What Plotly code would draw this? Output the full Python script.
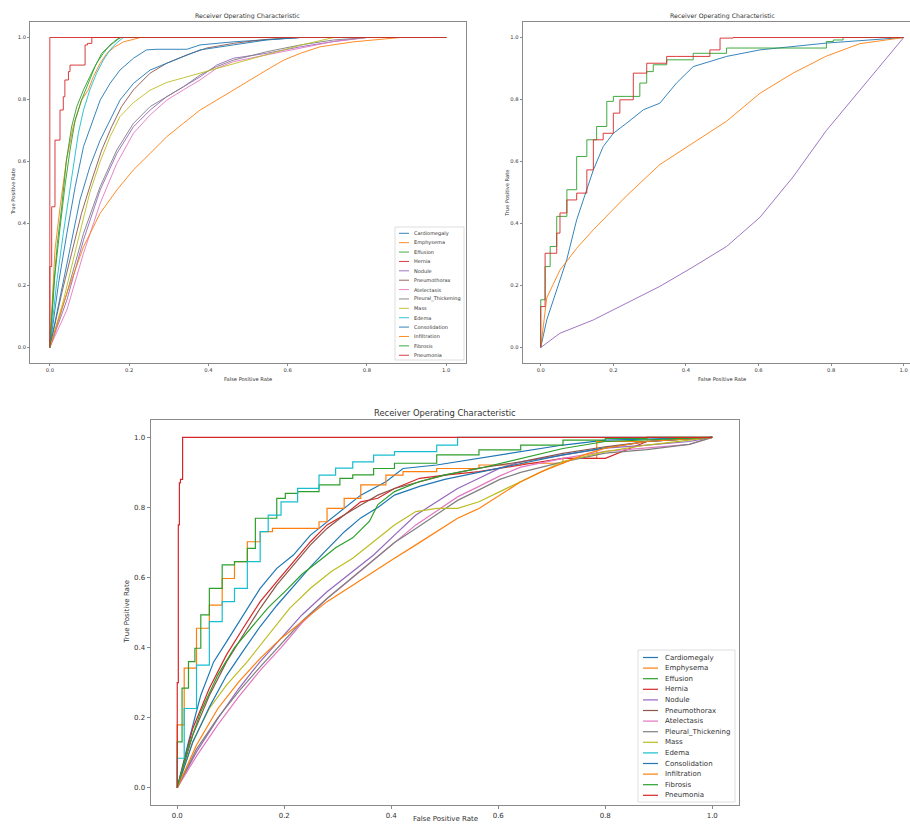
import plotly.graph_objects as go

W, H = 910, 825

CLASS_NAMES = ["Cardiomegaly", "Emphysema", "Effusion", "Hernia", "Nodule",
               "Pneumothorax", "Atelectasis", "Pleural_Thickening", "Mass",
               "Edema", "Consolidation", "Infiltration", "Fibrosis", "Pneumonia"]
TAB10 = ["#1f77b4", "#ff7f0e", "#2ca02c", "#d62728", "#9467bd",
         "#8c564b", "#e377c2", "#7f7f7f", "#bcbd22", "#17becf"]
TICK_VALS = [0.0, 0.2, 0.4, 0.6, 0.8, 1.0]
TICK_TEXT = ["0.0", "0.2", "0.4", "0.6", "0.8", "1.0"]
TITLE = "Receiver Operating Characteristic"
XLABEL = "False Positive Rate"
YLABEL = "True Positive Rate"

# ---------------- top-left panel (14 classes) ----------------
tl_cardiomegaly_x = [0, 0.022, 0.043, 0.064, 0.085, 0.106, 0.127, 0.152, 0.177, 0.211, 0.244, 0.27, 0.346, 0.379, 0.463, 0.632, 1.0]
tl_cardiomegaly_y = [0, 0.207, 0.368, 0.519, 0.648, 0.723, 0.798, 0.852, 0.895, 0.933, 0.96, 0.962, 0.962, 0.976, 0.986, 1.0, 1.0]
tl_emphysema_x = [0, 0.013, 0.026, 0.042, 0.059, 0.08, 0.097, 0.11, 0.127, 0.144, 0.164, 0.186, 0.211, 0.228, 1.0]
tl_emphysema_y = [0, 0.315, 0.454, 0.605, 0.712, 0.798, 0.831, 0.874, 0.917, 0.949, 0.97, 0.986, 0.994, 1.0, 1.0]
tl_effusion_x = [0, 0.009, 0.019, 0.03, 0.042, 0.055, 0.068, 0.085, 0.101, 0.118, 0.135, 0.152, 0.169, 0.18, 1.0]
tl_effusion_y = [0, 0.185, 0.336, 0.454, 0.605, 0.712, 0.777, 0.831, 0.874, 0.917, 0.949, 0.976, 0.994, 1.0, 1.0]
tl_hernia_x = [0, 0.0047, 0.013, 0.0257, 0.034, 0.038, 0.047, 0.051, 0.068, 0.089, 0.095, 0.106, 0.118, 1.0]
tl_hernia_y = [0, 0.261, 0.454, 0.669, 0.766, 0.809, 0.863, 0.89, 0.911, 0.911, 0.976, 0.981, 1.0, 1.0]
tl_nodule_x = [0, 0.043, 0.085, 0.127, 0.169, 0.211, 0.253, 0.295, 0.337, 0.379, 0.421, 0.463, 0.547, 0.632, 0.716, 0.8, 1.0]
tl_nodule_y = [0, 0.153, 0.347, 0.508, 0.626, 0.712, 0.766, 0.809, 0.841, 0.873, 0.911, 0.933, 0.949, 0.97, 0.987, 1.0, 1.0]
tl_pneumothorax_x = [0, 0.03, 0.055, 0.08, 0.106, 0.131, 0.156, 0.181, 0.211, 0.253, 0.295, 0.346, 0.396, 0.463, 0.547, 0.632, 1.0]
tl_pneumothorax_y = [0, 0.175, 0.304, 0.433, 0.54, 0.637, 0.712, 0.777, 0.831, 0.885, 0.917, 0.944, 0.966, 0.981, 0.994, 1.0, 1.0]
tl_atelectasis_x = [0, 0.043, 0.085, 0.127, 0.169, 0.211, 0.253, 0.295, 0.337, 0.379, 0.421, 0.463, 0.547, 0.632, 0.716, 0.8, 1.0]
tl_atelectasis_y = [0, 0.121, 0.304, 0.465, 0.594, 0.691, 0.75, 0.798, 0.831, 0.863, 0.901, 0.922, 0.944, 0.965, 0.987, 1.0, 1.0]
tl_pleural_x = [0, 0.043, 0.085, 0.127, 0.169, 0.211, 0.253, 0.295, 0.337, 0.379, 0.421, 0.463, 0.547, 0.632, 0.716, 0.8, 1.0]
tl_pleural_y = [0, 0.175, 0.368, 0.519, 0.637, 0.723, 0.777, 0.809, 0.841, 0.879, 0.906, 0.927, 0.954, 0.976, 0.992, 1.0, 1.0]
tl_mass_x = [0, 0.034, 0.068, 0.101, 0.127, 0.152, 0.177, 0.211, 0.253, 0.295, 0.337, 0.379, 0.421, 0.463, 0.547, 0.632, 0.716, 1.0]
tl_mass_y = [0, 0.15, 0.33, 0.5, 0.6, 0.68, 0.745, 0.79, 0.83, 0.855, 0.87, 0.885, 0.9, 0.915, 0.945, 0.975, 1.0, 1.0]
tl_edema_x = [0, 0.017, 0.034, 0.047, 0.059, 0.072, 0.085, 0.101, 0.118, 0.135, 0.152, 0.169, 0.186, 1.0]
tl_edema_y = [0, 0.207, 0.368, 0.476, 0.583, 0.691, 0.766, 0.831, 0.885, 0.927, 0.96, 0.983, 1.0, 1.0]
tl_consolidation_x = [0, 0.027, 0.052, 0.076, 0.101, 0.127, 0.152, 0.177, 0.211, 0.253, 0.295, 0.337, 0.379, 0.463, 0.547, 0.632, 1.0]
tl_consolidation_y = [0, 0.175, 0.325, 0.476, 0.583, 0.669, 0.734, 0.798, 0.852, 0.895, 0.917, 0.938, 0.96, 0.976, 0.992, 1.0, 1.0]
tl_infiltration_x = [0, 0.043, 0.085, 0.127, 0.169, 0.211, 0.253, 0.295, 0.337, 0.379, 0.421, 0.463, 0.505, 0.547, 0.59, 0.632, 0.682, 0.766, 0.884, 1.0]
tl_infiltration_y = [0, 0.175, 0.325, 0.433, 0.508, 0.573, 0.626, 0.68, 0.723, 0.766, 0.798, 0.831, 0.863, 0.895, 0.927, 0.949, 0.97, 0.986, 1.0, 1.0]
tl_fibrosis_x = [0, 0.013, 0.026, 0.038, 0.051, 0.064, 0.08, 0.097, 0.114, 0.131, 0.148, 0.164, 0.177, 1.0]
tl_fibrosis_y = [0, 0.237, 0.388, 0.519, 0.637, 0.734, 0.798, 0.852, 0.906, 0.949, 0.97, 0.986, 1.0, 1.0]
tl_pneumonia_x = [0, 0, 1.0]
tl_pneumonia_y = [0, 1.0, 1.0]

# ---------------- top-right panel (first five classes) ----------------
tr_cardiomegaly_x = [0, 0.0165, 0.044, 0.0716, 0.099, 0.145, 0.172, 0.2, 0.237, 0.283, 0.328, 0.374, 0.42, 0.512, 0.604, 0.695, 0.787, 1.0]
tr_cardiomegaly_y = [0, 0.089, 0.186, 0.283, 0.412, 0.573, 0.648, 0.691, 0.724, 0.767, 0.788, 0.853, 0.906, 0.939, 0.96, 0.971, 0.982, 1.0]
tr_emphysema_x = [0, 0.0165, 0.053, 0.099, 0.145, 0.237, 0.328, 0.42, 0.512, 0.604, 0.695, 0.787, 0.879, 1.0]
tr_emphysema_y = [0, 0.16, 0.25, 0.32, 0.38, 0.49, 0.59, 0.66, 0.73, 0.82, 0.885, 0.94, 0.98, 1.0]
tr_effusion_x = [0, 0.012, 0.026, 0.044, 0.072, 0.099, 0.127, 0.154, 0.182, 0.2, 0.237, 0.273, 0.292, 0.31, 0.347, 0.42, 0.512, 0.604, 0.787, 0.806, 0.833, 1.0]
tr_effusion_y = [0, 0.154, 0.261, 0.326, 0.423, 0.509, 0.616, 0.67, 0.713, 0.794, 0.81, 0.81, 0.853, 0.89, 0.912, 0.928, 0.949, 0.966, 0.966, 0.987, 0.992, 1.0]
tr_hernia_x = [0, 0.012, 0.026, 0.044, 0.053, 0.072, 0.099, 0.127, 0.145, 0.172, 0.2, 0.218, 0.255, 0.292, 0.347, 0.374, 0.466, 0.494, 0.53, 1.0]
tr_hernia_y = [0, 0.132, 0.304, 0.304, 0.369, 0.434, 0.476, 0.498, 0.573, 0.67, 0.691, 0.756, 0.799, 0.885, 0.917, 0.939, 0.939, 0.96, 0.998, 1.0]
tr_nodule_x = [0, 0.053, 0.145, 0.237, 0.328, 0.42, 0.512, 0.604, 0.695, 0.787, 0.879, 0.95, 1.0]
tr_nodule_y = [0, 0.046, 0.089, 0.143, 0.197, 0.26, 0.326, 0.42, 0.55, 0.70, 0.83, 0.93, 1.0]

# ---------------- bottom panel (14 classes) ----------------
bt_cardiomegaly_x = [0, 0.021, 0.044, 0.068, 0.092, 0.123, 0.155, 0.186, 0.217, 0.249, 0.28, 0.312, 0.343, 0.39, 0.422, 0.485, 0.564, 0.642, 0.721, 0.8, 1.0]
bt_cardiomegaly_y = [0, 0.131, 0.264, 0.359, 0.416, 0.493, 0.569, 0.626, 0.664, 0.721, 0.759, 0.797, 0.835, 0.873, 0.911, 0.921, 0.94, 0.959, 0.978, 0.992, 1.0]
bt_emphysema_x = [0, 0.013, 0.036, 0.06, 0.084, 0.107, 0.131, 0.155, 0.178, 0.202, 0.265, 0.28, 0.312, 0.343, 0.39, 0.422, 0.485, 0.564, 0.642, 0.721, 0.784, 0.878, 1.0]
bt_emphysema_y = [0, 0.179, 0.341, 0.455, 0.521, 0.597, 0.645, 0.702, 0.731, 0.74, 0.74, 0.759, 0.797, 0.826, 0.864, 0.892, 0.902, 0.911, 0.921, 0.926, 0.94, 0.988, 1.0]
bt_effusion_x = [0, 0.009, 0.021, 0.033, 0.044, 0.06, 0.084, 0.107, 0.131, 0.146, 0.162, 0.186, 0.202, 0.225, 0.265, 0.304, 0.328, 0.367, 0.406, 0.485, 0.564, 0.642, 0.721, 0.8, 0.878, 1.0]
bt_effusion_y = [0, 0.131, 0.284, 0.36, 0.398, 0.493, 0.569, 0.636, 0.645, 0.683, 0.769, 0.769, 0.826, 0.84, 0.845, 0.864, 0.883, 0.893, 0.911, 0.926, 0.95, 0.964, 0.978, 0.992, 0.997, 1.0]
bt_hernia_x = [0, 0.029, 0.06, 0.092, 0.123, 0.155, 0.186, 0.217, 0.249, 0.28, 0.312, 0.343, 0.375, 0.406, 0.453, 0.5, 0.564, 0.642, 0.721, 0.8, 0.878, 1.0]
bt_hernia_y = [0, 0.169, 0.284, 0.379, 0.455, 0.531, 0.588, 0.645, 0.702, 0.75, 0.778, 0.816, 0.826, 0.854, 0.883, 0.892, 0.902, 0.921, 0.94, 0.94, 0.988, 1.0]
bt_nodule_x = [0, 0.036, 0.076, 0.115, 0.155, 0.194, 0.233, 0.28, 0.328, 0.367, 0.406, 0.446, 0.485, 0.524, 0.564, 0.603, 0.642, 0.721, 0.8, 0.878, 0.957, 1.0]
bt_nodule_y = [0, 0.102, 0.198, 0.283, 0.36, 0.426, 0.493, 0.559, 0.617, 0.664, 0.721, 0.778, 0.816, 0.854, 0.883, 0.912, 0.93, 0.95, 0.969, 0.978, 0.988, 1.0]
bt_pneumothorax_x = [0, 0.029, 0.06, 0.092, 0.123, 0.155, 0.186, 0.217, 0.249, 0.28, 0.312, 0.343, 0.375, 0.406, 0.453, 0.5, 0.564, 0.642, 0.721, 0.8, 0.878, 1.0]
bt_pneumothorax_y = [0, 0.15, 0.263, 0.359, 0.435, 0.512, 0.579, 0.636, 0.693, 0.74, 0.778, 0.807, 0.835, 0.854, 0.873, 0.892, 0.912, 0.93, 0.954, 0.973, 0.988, 1.0]
bt_atelectasis_x = [0, 0.036, 0.076, 0.115, 0.155, 0.194, 0.233, 0.28, 0.328, 0.367, 0.406, 0.446, 0.485, 0.524, 0.564, 0.603, 0.642, 0.721, 0.8, 0.878, 0.957, 1.0]
bt_atelectasis_y = [0, 0.09, 0.18, 0.26, 0.335, 0.40, 0.47, 0.54, 0.6, 0.65, 0.70, 0.75, 0.79, 0.83, 0.86, 0.89, 0.915, 0.94, 0.96, 0.97, 0.98, 1.0]
bt_pleural_x = [0, 0.036, 0.076, 0.115, 0.155, 0.194, 0.233, 0.28, 0.328, 0.367, 0.406, 0.446, 0.485, 0.524, 0.564, 0.603, 0.642, 0.721, 0.8, 0.878, 0.957, 1.0]
bt_pleural_y = [0, 0.11, 0.2, 0.275, 0.345, 0.41, 0.475, 0.54, 0.6, 0.65, 0.70, 0.74, 0.78, 0.82, 0.85, 0.88, 0.90, 0.93, 0.955, 0.965, 0.98, 1.0]
bt_mass_x = [0, 0.029, 0.06, 0.092, 0.131, 0.17, 0.21, 0.249, 0.288, 0.328, 0.367, 0.406, 0.446, 0.485, 0.524, 0.564, 0.603, 0.642, 0.681, 0.721, 0.8, 0.878, 1.0]
bt_mass_y = [0, 0.131, 0.226, 0.293, 0.36, 0.436, 0.512, 0.569, 0.617, 0.655, 0.702, 0.75, 0.788, 0.797, 0.797, 0.816, 0.845, 0.873, 0.902, 0.931, 0.959, 0.978, 1.0]
bt_edema_x = [0, 0.013, 0.036, 0.06, 0.084, 0.107, 0.131, 0.155, 0.17, 0.194, 0.225, 0.265, 0.296, 0.328, 0.367, 0.406, 0.485, 0.524, 0.603, 1.0]
bt_edema_y = [0, 0.084, 0.226, 0.35, 0.474, 0.531, 0.569, 0.645, 0.731, 0.778, 0.816, 0.854, 0.892, 0.912, 0.93, 0.949, 0.959, 0.978, 1.0, 1.0]
bt_consolidation_x = [0, 0.029, 0.06, 0.092, 0.123, 0.155, 0.186, 0.217, 0.249, 0.28, 0.312, 0.343, 0.375, 0.406, 0.453, 0.5, 0.564, 0.642, 0.721, 0.8, 0.878, 1.0]
bt_consolidation_y = [0, 0.13, 0.23, 0.32, 0.39, 0.46, 0.52, 0.575, 0.63, 0.68, 0.73, 0.77, 0.80, 0.835, 0.86, 0.88, 0.9, 0.925, 0.95, 0.97, 0.988, 1.0]
bt_infiltration_x = [0, 0.036, 0.076, 0.115, 0.155, 0.194, 0.233, 0.28, 0.328, 0.367, 0.406, 0.446, 0.485, 0.524, 0.564, 0.603, 0.642, 0.681, 0.721, 0.76, 0.8, 0.878, 1.0]
bt_infiltration_y = [0, 0.122, 0.226, 0.302, 0.369, 0.426, 0.474, 0.531, 0.578, 0.617, 0.655, 0.693, 0.731, 0.769, 0.797, 0.835, 0.873, 0.902, 0.926, 0.95, 0.969, 0.988, 1.0]
bt_fibrosis_x = [0, 0.02, 0.044, 0.076, 0.107, 0.139, 0.17, 0.202, 0.233, 0.265, 0.296, 0.328, 0.359, 0.375, 0.406, 0.453, 0.5, 0.564, 0.642, 0.721, 0.8, 0.878, 1.0]
bt_fibrosis_y = [0, 0.112, 0.217, 0.322, 0.4, 0.457, 0.514, 0.561, 0.609, 0.647, 0.685, 0.713, 0.76, 0.808, 0.845, 0.874, 0.893, 0.911, 0.94, 0.968, 0.988, 0.992, 1.0]
bt_pneumonia_x = [0, 0.002, 0.004, 0.006, 0.01, 0.012, 1.0]
bt_pneumonia_y = [0, 0.3, 0.75, 0.87, 0.88, 1.0, 1.0]

TL_SERIES = [(tl_cardiomegaly_x, tl_cardiomegaly_y), (tl_emphysema_x, tl_emphysema_y),
             (tl_effusion_x, tl_effusion_y), (tl_hernia_x, tl_hernia_y),
             (tl_nodule_x, tl_nodule_y), (tl_pneumothorax_x, tl_pneumothorax_y),
             (tl_atelectasis_x, tl_atelectasis_y), (tl_pleural_x, tl_pleural_y),
             (tl_mass_x, tl_mass_y), (tl_edema_x, tl_edema_y),
             (tl_consolidation_x, tl_consolidation_y), (tl_infiltration_x, tl_infiltration_y),
             (tl_fibrosis_x, tl_fibrosis_y), (tl_pneumonia_x, tl_pneumonia_y)]
TR_SERIES = [(tr_cardiomegaly_x, tr_cardiomegaly_y), (tr_emphysema_x, tr_emphysema_y),
             (tr_effusion_x, tr_effusion_y), (tr_hernia_x, tr_hernia_y),
             (tr_nodule_x, tr_nodule_y)]
BT_SERIES = [(bt_cardiomegaly_x, bt_cardiomegaly_y), (bt_emphysema_x, bt_emphysema_y),
             (bt_effusion_x, bt_effusion_y), (bt_hernia_x, bt_hernia_y),
             (bt_nodule_x, bt_nodule_y), (bt_pneumothorax_x, bt_pneumothorax_y),
             (bt_atelectasis_x, bt_atelectasis_y), (bt_pleural_x, bt_pleural_y),
             (bt_mass_x, bt_mass_y), (bt_edema_x, bt_edema_y),
             (bt_consolidation_x, bt_consolidation_y), (bt_infiltration_x, bt_infiltration_y),
             (bt_fibrosis_x, bt_fibrosis_y), (bt_pneumonia_x, bt_pneumonia_y)]

# curves drawn as stair steps (few positives in the source ROC)
TL_STEPPED = {"Hernia"}
TR_STEPPED = {"Hernia", "Effusion"}
BT_STEPPED = {"Effusion", "Edema", "Emphysema", "Pneumonia"}

FONT = "DejaVu Sans"
FRAME = "#8a8a8a"
TXT = "#333333"


def px(x):
    return x / W


def py(y):
    return 1 - y / H


fig = go.Figure()

panels = [("x", "y", TL_SERIES, TL_STEPPED, 0.9),
          ("x2", "y2", TR_SERIES, TR_STEPPED, 0.9),
          ("x3", "y3", BT_SERIES, BT_STEPPED, 1.2)]
for xa, ya, series, stepped, lw in panels:
    for i, (xs, ys) in enumerate(series):
        name = CLASS_NAMES[i]
        fig.add_trace(go.Scatter(x=xs, y=ys, mode="lines", name=name,
                                 line=dict(color=TAB10[i % 10], width=lw,
                                           shape="vh" if name in stepped else "linear"),
                                 xaxis=xa, yaxis=ya, showlegend=False, hoverinfo="skip"))


def axis(domain, rng, fs, tlen, anchor):
    return dict(domain=domain, range=rng, tickmode="array", tickvals=TICK_VALS,
                ticktext=TICK_TEXT, ticks="outside", ticklen=tlen, tickwidth=0.7,
                tickcolor=FRAME, showline=True, linecolor=FRAME, linewidth=0.9,
                mirror=True, showgrid=False, zeroline=False, anchor=anchor,
                tickfont=dict(family=FONT, size=fs, color=TXT))


top_y = [py(363), py(22)]
fig.update_layout(
    width=W, height=H, margin=dict(l=0, r=0, t=0, b=0),
    paper_bgcolor="white", plot_bgcolor="white", showlegend=False,
    xaxis=axis([px(30), px(466)], [-0.05, 1.05], 5.2, 2, "y"),
    yaxis=axis(top_y, [-0.05, 1.05], 5.2, 2, "x"),
    xaxis2=axis([px(522.6), 1.0], [-0.05, 1.0174], 5.2, 2, "y2"),
    yaxis2=axis(top_y, [-0.05, 1.05], 5.2, 2, "x2"),
    xaxis3=axis([px(150.5), px(739)], [-0.05, 1.05], 7, 3, "y3"),
    yaxis3=axis([py(805.2), py(419.8)], [-0.05, 1.05], 7, 3, "x3"),
)

ann = []
shapes = []


def text(x, y, s, size, angle=0, xanchor="center"):
    ann.append(dict(x=px(x), y=py(y), xref="paper", yref="paper", text=s, showarrow=False,
                    textangle=angle, xanchor=xanchor, yanchor="middle",
                    font=dict(family=FONT, size=size, color=TXT)))


# titles and axis labels
text(248, 15.7, TITLE, 6.2)
text(722, 15.7, TITLE, 6.2)
text(445, 413, TITLE, 8.4)
text(248, 379, XLABEL, 5.2)
text(722, 379, XLABEL, 5.2)
text(445, 819, XLABEL, 7)
text(13.3, 192, YLABEL, 5.2, -90)
text(506.7, 193, YLABEL, 5.2, -90)
text(127.4, 612, YLABEL, 7, -90)


def legend(x0, x1, y0, y1, first, step, lx0, lx1, tx, fs, lw):
    shapes.append(dict(type="rect", xref="paper", yref="paper", x0=px(x0), x1=px(x1),
                       y0=py(y1), y1=py(y0), fillcolor="rgba(255,255,255,0.85)",
                       line=dict(color="#d6d6d6", width=0.8), layer="above"))
    for i, name in enumerate(CLASS_NAMES):
        yy = first + i * step
        shapes.append(dict(type="line", xref="paper", yref="paper", x0=px(lx0), x1=px(lx1),
                           y0=py(yy), y1=py(yy), line=dict(color=TAB10[i % 10], width=lw),
                           layer="above"))
        text(tx, yy, name, fs, xanchor="left")


legend(395, 464, 227, 360, 233.3, 9.38, 399, 409, 412, 5, 0.9)
legend(638, 735, 650, 802, 657.5, 10.6, 643, 658, 663, 7, 1.2)

fig.update_layout(annotations=ann, shapes=shapes)
fig.write_html("out.html", config={"displayModeBar": False},
               post_script="document.body.style.margin='0px';document.body.style.overflow='hidden';")
